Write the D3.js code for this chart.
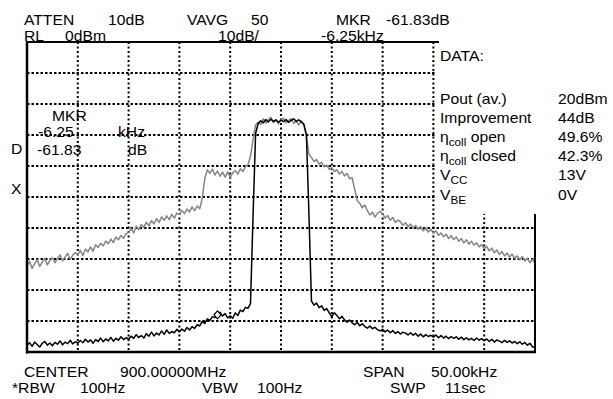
<!DOCTYPE html>
<html><head><meta charset="utf-8">
<script src="https://cdn.jsdelivr.net/npm/d3@7"></script>
<style>
html,body{margin:0;padding:0;background:#fff;}
svg text{font-family:"Liberation Sans",Arial,sans-serif;font-size:14px;fill:#000;}
</style></head>
<body>
<svg id="chart" width="613" height="399"></svg>
<script>
// Frequency axis: -25..+25 kHz around 900 MHz, sampled every 0.25 kHz
const freqStart = -25, freqStep = 0.25;
// Level axis (dBm)
const levelDomain = [-100, 0];
const xDivisions = 10, yDivisions = 10;

// Open-loop trace (grey), dBm
const openTrace = [
-72.1,-70.8,-73.0,-71.5,-70.2,-72.4,-71.0,-69.8,-71.9,-70.5,-69.6,-71.2,-69.9,-68.7,-70.6,-69.3,-68.2,-70.1,-68.8,-67.9,
-68.6,-67.2,-68.9,-66.8,-67.7,-66.1,-67.5,-65.4,-66.3,-64.9,-65.8,-64.2,-65.1,-63.6,-64.7,-62.9,-63.8,-62.4,-63.3,-61.8,
-61.5,-60.2,-61.6,-59.4,-60.5,-58.9,-59.8,-58.1,-59.3,-57.6,-58.7,-57.0,-58.2,-56.4,-57.5,-56.1,-57.3,-55.6,-56.8,-55.2,
-55.6,-54.3,-55.4,-53.9,-54.8,-53.2,-54.4,-52.9,-53.8,-50.5,-44.0,-41.2,-42.4,-41.0,-42.9,-41.6,-43.3,-42.0,-43.6,-41.9,
-43.8,-42.2,-41.5,-42.6,-40.9,-41.8,-40.2,-39.6,-36.8,-31.5,-26.8,-25.9,-26.6,-24.8,-26.2,-25.1,-24.3,-26.0,-25.2,-26.4,
-25.0,-24.6,-26.1,-25.3,-24.7,-26.3,-25.5,-26.8,-25.4,-26.9,-30.5,-36.2,-37.3,-38.6,-37.9,-39.4,-38.8,-40.3,-39.7,-41.1,
-40.5,-41.8,-41.2,-42.6,-41.7,-43.2,-42.4,-44.1,-43.8,-47.5,-51.2,-52.0,-53.5,-52.6,-54.4,-55.8,-54.9,-56.5,-55.3,-54.6,
-55.4,-56.8,-56.0,-57.5,-56.6,-58.2,-57.4,-58.0,-59.1,-58.3,-59.6,-58.7,-60.1,-59.2,-60.4,-59.5,-60.9,-60.0,-61.3,-60.4,
-61.7,-60.9,-62.4,-61.6,-62.8,-62.0,-63.4,-62.5,-63.7,-62.9,-64.3,-63.4,-64.8,-63.8,-65.2,-64.3,-65.5,-64.8,-66.1,-65.3,
-66.7,-65.9,-67.4,-66.5,-68.0,-67.1,-68.5,-67.6,-69.0,-68.1,-69.4,-68.4,-69.8,-69.0,-70.3,-69.2,-70.6,-69.8,-71.2,-70.1,-71.5
];
// Closed-loop trace (black), dBm
const closedTrace = [
-97.9,-97.0,-98.2,-96.8,-97.6,-98.4,-97.2,-96.6,-97.8,-97.1,-98.0,-96.9,-97.5,-96.4,-97.7,-96.8,-97.3,-96.2,-97.4,-96.7,
-97.1,-96.3,-97.0,-95.9,-96.8,-96.1,-97.2,-96.0,-96.6,-95.5,-96.7,-95.8,-96.4,-95.3,-96.5,-95.6,-96.2,-95.1,-96.0,-95.4,
-95.8,-94.9,-95.6,-94.4,-95.3,-94.7,-95.5,-94.1,-94.9,-93.6,-94.8,-93.9,-94.5,-93.2,-94.3,-92.9,-94.0,-93.4,-93.8,-92.7,
-93.5,-92.6,-93.3,-92.1,-92.9,-91.8,-92.4,-91.2,-91.6,-90.1,-90.8,-89.3,-89.8,-88.6,-88.9,-88.0,-87.2,-88.4,-87.6,-89.0,
-88.3,-89.1,-87.4,-88.2,-86.5,-87.0,-85.6,-85.9,-84.3,-56.0,-29.5,-26.3,-25.4,-26.1,-25.0,-25.8,-24.9,-25.6,-25.1,-25.9,
-25.2,-25.7,-25.0,-25.9,-25.3,-24.8,-25.6,-25.1,-25.8,-26.5,-29.8,-55.5,-83.6,-84.9,-84.2,-85.7,-85.1,-86.6,-86.0,-87.4,
-88.6,-87.3,-88.2,-89.3,-88.5,-89.6,-90.4,-89.7,-90.6,-91.2,-90.5,-91.5,-90.9,-91.8,-92.3,-91.6,-92.5,-92.0,-92.8,-93.2,
-92.7,-93.5,-92.9,-93.8,-93.1,-94.0,-93.4,-94.2,-93.6,-93.9,-94.5,-93.8,-94.6,-94.0,-94.9,-94.2,-95.1,-94.4,-95.0,-94.6,
-95.2,-94.5,-95.4,-94.7,-95.5,-94.9,-95.7,-95.0,-95.6,-95.1,-95.9,-95.2,-96.0,-95.4,-96.1,-95.6,-96.3,-95.5,-96.2,-95.7,
-96.4,-95.8,-96.6,-95.9,-96.8,-96.1,-96.5,-97.0,-96.2,-96.9,-96.4,-97.1,-96.6,-97.3,-96.7,-97.5,-96.9,-97.8,-97.2,-98.3,-98.6
];
// Marker
const markerFreq = -6.25, markerLevel = -88.0;

// Header / footer annotation texts
const headerTexts = [
  {t:"ATTEN", x:24, y:24.5},{t:"10dB", x:108, y:24.5},{t:"VAVG", x:187, y:24.5},{t:"50", x:251, y:24.5},
  {t:"MKR", x:336, y:24.5},{t:"-61.83dB", x:386, y:24.5},
  {t:"RL", x:24, y:40.5},{t:"0dBm", x:65, y:40.5},{t:"10dB/", x:218, y:40.5},{t:"-6.25kHz", x:321, y:40.5}
];
const footerTexts = [
  {t:"CENTER", x:24, y:377},{t:"900.00000MHz", x:120, y:377},{t:"SPAN", x:363, y:377},{t:"50.00kHz", x:431, y:377},
  {t:"*RBW", x:12, y:393},{t:"100Hz", x:80, y:393},{t:"VBW", x:202, y:393},{t:"100Hz", x:257, y:393},
  {t:"SWP", x:390, y:393},{t:"11sec", x:445, y:393}
];
const innerTexts = [
  {t:"MKR", x:52, y:121},{t:"-6.25", x:38, y:136.5},{t:"kHz", x:118, y:136.5},
  {t:"-61.83", x:37, y:154.5},{t:"dB", x:128, y:154.5},{t:"D", x:11, y:154},{t:"X", x:11, y:193.5}
];
const dataLabels = ["Pout (av.)","Improvement","η|coll| open","η|coll| closed","V|CC|","V|BE|"];
const dataValues = ["20dBm","44dB","49.6%","42.3%","13V","0V"];
const dataRowY = [103.5, 122.5, 141.5, 160.5, 180, 200];

const svg = d3.select("#chart");
const L = 27, R = 535, T = 42, B = 352;
const SX = 1.12; // horizontal stretch of the original lettering
const x = d3.scaleLinear().domain([freqStart, -freqStart]).range([L, R]);
const y = d3.scaleLinear().domain(levelDomain).range([B, T]);

// grid
const gx = d3.range(1, xDivisions).map(i => freqStart + i * (-2 * freqStart) / xDivisions);
const gy = d3.range(1, yDivisions).map(i => levelDomain[0] + i * (levelDomain[1] - levelDomain[0]) / yDivisions);
svg.append("g").selectAll("line").data(gx).join("line")
  .attr("x1", d => x(d)).attr("x2", d => x(d)).attr("y1", T).attr("y2", B)
  .attr("stroke", "#000").attr("stroke-width", 2).attr("stroke-dasharray", "2,2.5");
svg.append("g").selectAll("line").data(gy).join("line")
  .attr("x1", L).attr("x2", R).attr("y1", d => y(d)).attr("y2", d => y(d))
  .attr("stroke", "#000").attr("stroke-width", 2).attr("stroke-dasharray", "2.5,2");

// traces
const freqs = openTrace.map((_, i) => freqStart + i * freqStep);
const line = d3.line().x((d, i) => x(freqs[i])).y(d => y(d));
svg.append("path").datum(openTrace).attr("d", line).attr("fill", "none")
  .attr("stroke", "#858585").attr("stroke-width", 1.5).attr("stroke-linejoin", "round");
svg.append("path").datum(closedTrace).attr("d", line).attr("fill", "none")
  .attr("stroke", "#000").attr("stroke-width", 1.5).attr("stroke-linejoin", "round");
// marker diamond
const mx = x(markerFreq), my = y(markerLevel);
svg.append("path").attr("d", `M${mx},${my-4}L${mx+3.5},${my}L${mx},${my+4}L${mx-3.5},${my}Z`)
  .attr("fill", "#fff").attr("stroke", "#000").attr("stroke-width", 1.2);

// data box (white panel)
svg.append("rect").attr("x", 436).attr("y", 0).attr("width", 177).attr("height", 214).attr("fill", "#fff");

// frame
const frame = svg.append("g").attr("stroke", "#000").attr("fill", "none");
frame.append("line").attr("x1", L).attr("x2", L).attr("y1", T - 1).attr("y2", B + 1.5).attr("stroke-width", 2.5);
frame.append("line").attr("x1", L - 1).attr("x2", R + 1).attr("y1", B).attr("y2", B).attr("stroke-width", 2.5);
frame.append("line").attr("x1", L - 1).attr("x2", 439).attr("y1", T).attr("y2", T).attr("stroke-width", 2);
frame.append("line").attr("x1", R).attr("x2", R).attr("y1", 214).attr("y2", B + 1).attr("stroke-width", 2);

// texts
function place(sel, px, py) { return sel.attr("transform", `translate(${px},${py}) scale(${SX},1)`); }
function addTexts(arr) {
  svg.append("g").selectAll("text").data(arr).join("text")
    .attr("transform", d => `translate(${d.x},${d.y}) scale(${SX},1)`).text(d => d.t);
}
addTexts(headerTexts); addTexts(footerTexts); addTexts(innerTexts);
place(svg.append("text"), 440, 61).text("DATA:");
function richText(sel, s) {
  const parts = s.split("|");
  parts.forEach((p, i) => {
    const ts = sel.append("tspan").text(p);
    if (i % 2 === 1) ts.attr("font-size", "10.5px").attr("dy", 4);
    else if (i > 0) ts.attr("dy", -4);
  });
}
dataLabels.forEach((s, i) => {
  const t = place(svg.append("text"), 440, dataRowY[i]);
  richText(t, s);
});
svg.append("g").selectAll("text").data(dataValues).join("text")
  .attr("transform", (d, i) => `translate(558,${dataRowY[i]}) scale(${SX},1)`).text(d => d);
</script>
</body></html>
